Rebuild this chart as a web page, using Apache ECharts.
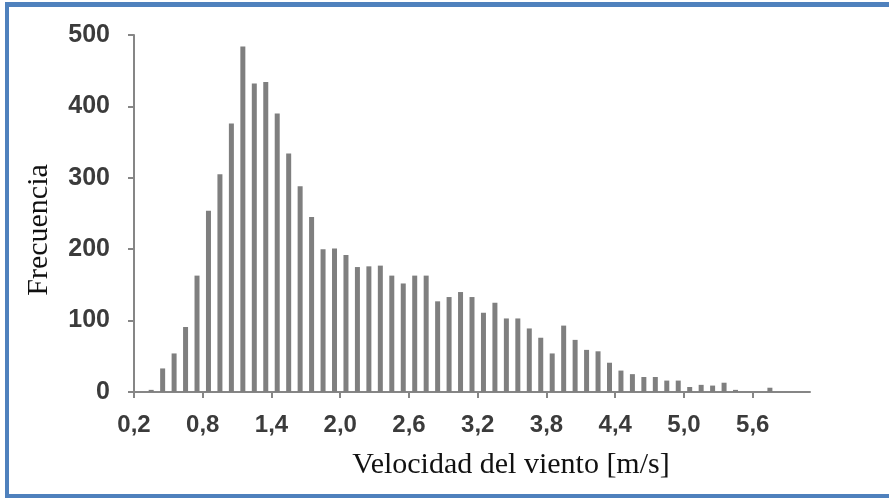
<!DOCTYPE html>
<html>
<head>
<meta charset="utf-8">
<script src="https://cdn.jsdelivr.net/npm/echarts@6/dist/echarts.min.js"></script>
<style>
  html, body { margin: 0; padding: 0; background: #ffffff; }
  #wrap { position: relative; width: 889px; height: 499px; overflow: hidden; }
  #chart { position: absolute; left: 0; top: 0; width: 889px; height: 499px; }
  #frame { position: absolute; left: 5px; top: 2px; width: 900px; height: 496px; box-sizing: border-box;
           border-top: 5px solid #4f81bd; border-left: 4px solid #4f81bd; border-bottom: 4px solid #4f81bd;
           pointer-events: none; }
</style>
</head>
<body>
<div id="wrap">
  <div id="chart"></div>
  <div id="frame"></div>
</div>
<script>
// Bin starts (m/s), one category per histogram bar
const categories = ['0,2','0,3','0,4','0,5','0,6','0,7','0,8','0,9','1,0','1,1',
  '1,2','1,3','1,4','1,5','1,6','1,7','1,8','1,9','2,0','2,1',
  '2,2','2,3','2,4','2,5','2,6','2,7','2,8','2,9','3,0','3,1',
  '3,2','3,3','3,4','3,5','3,6','3,7','3,8','3,9','4,0','4,1',
  '4,2','4,3','4,4','4,5','4,6','4,7','4,8','4,9','5,0','5,1',
  '5,2','5,3','5,4','5,5','5,6','5,7','5,8','5,9','6,0'];
// Frequency per bin
const frequencies = [0, 3, 33, 54, 91, 163, 254, 305, 376, 484,
  432, 434, 390, 334, 288, 245, 200, 201, 192, 175,
  176, 177, 163, 152, 163, 163, 127, 133, 140, 133,
  111, 125, 103, 103, 89, 76, 54, 93, 73, 59,
  57, 41, 30, 25, 21, 21, 16, 16, 7, 10,
  9, 13, 3, 0, 0, 6, 0, 0, 0];
// Tick labels, one every 6 bins
const tickLabels = ['0,2','0,8','1,4','2,0','2,6','3,2','3,8','4,4','5,0','5,6'];
const yTicks = [0, 100, 200, 300, 400, 500];

const tickEvery = 6;
const axisGray = '#868686';
const labelStyle = { fontFamily: 'Liberation Sans', fontWeight: 'bold', fontSize: 24, color: '#3b3b3b' };
const nameStyle = { fontFamily: 'Liberation Serif', fontSize: 30, color: '#111111' };

const chart = echarts.init(document.getElementById('chart'), null, { renderer: 'canvas' });
chart.setOption({
  animation: false,
  backgroundColor: '#ffffff',
  grid: { left: 134, right: 79, top: 35, bottom: 107, containLabel: false },
  xAxis: [
    {
      type: 'category',
      data: categories,
      boundaryGap: true,
      axisLine: { show: true, lineStyle: { color: axisGray, width: 2 } },
      axisTick: { show: false },
      axisLabel: { show: false },
      splitLine: { show: false },
      name: 'Velocidad del viento [m/s]',
      nameLocation: 'middle',
      nameGap: 58,
      nameTextStyle: Object.assign({ padding: [0, 0, 0, 78] }, nameStyle)
    },
    {
      type: 'value',
      position: 'bottom',
      min: 0,
      max: categories.length,
      axisLine: { show: false },
      axisTick: { show: true, length: 6, lineStyle: { color: axisGray, width: 2 },
                  customValues: tickLabels.map((_, i) => i * tickEvery) },
      axisLabel: Object.assign({ margin: 21,
                  customValues: tickLabels.map((_, i) => i * tickEvery),
                  formatter: v => tickLabels[Math.round(v / tickEvery)] || '' }, labelStyle),
      splitLine: { show: false }
    }
  ],
  yAxis: {
    type: 'value',
    min: yTicks[0],
    max: yTicks[yTicks.length - 1],
    interval: 100,
    axisLine: { show: true, lineStyle: { color: axisGray, width: 2 } },
    axisTick: { show: true, length: 6, lineStyle: { color: axisGray, width: 2 } },
    axisLabel: Object.assign({ margin: 24 }, labelStyle, { fontSize: 25 }),
    splitLine: { show: false },
    name: 'Frecuencia',
    nameLocation: 'middle',
    nameRotate: 90,
    nameGap: 80,
    nameTextStyle: Object.assign({ padding: [0, 33, 0, 0] }, nameStyle)
  },
  series: [{
    type: 'bar',
    xAxisIndex: 0,
    data: frequencies,
    barWidth: 5,
    itemStyle: { color: '#7f7f7f' }
  }]
});
</script>
</body>
</html>
